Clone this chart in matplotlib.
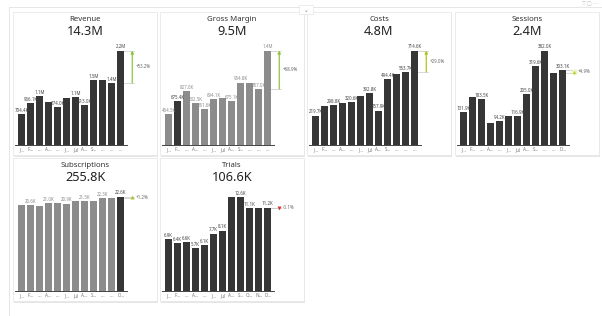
import matplotlib
matplotlib.use('Agg')
import matplotlib.pyplot as plt
from matplotlib.patches import Rectangle

plt.rcParams['font.family'] = ['Noto Sans', 'DejaVu Sans']

# ---------------- data ----------------
revenue_k = [704.4, 966.1, 1130, 990, 874.0, 1080, 1110, 913.0, 1500, 1520, 1440, 2200]
gross_margin_k = [464.5, 675.4, 827.0, 632.5, 551.6, 694.1, 715, 675.1, 954.8, 940, 857.0, 1448]
costs_k = [219.7, 290.0, 298.8, 316.0, 320.6, 366.0, 392.8, 257.9, 494.4, 533.0, 553.7, 714.6]
sessions_k = [131.9, 193.0, 183.5, 89.0, 94.2, 116.0, 116.9, 205.0, 319.6, 382.0, 289.0, 303.1]
subscriptions_k = [20.5, 20.6, 20.3, 21.0, 21.0, 20.9, 21.5, 21.5, 21.5, 22.3, 22.3, 22.6]
trials_k = [6.9, 6.4, 6.6, 5.7, 6.1, 7.7, 8.1, 12.7, 12.6, 11.1, 11.21, 11.2]

titles = ["Revenue", "Gross Margin", "Costs", "Sessions", "Subscriptions", "Trials"]
totals = ["14.3M", "9.5M", "4.8M", "2.4M", "255.8K", "106.6K"]
variances = ["+53.2%", "+68.9%", "+29.0%", "+4.9%", "+1.2%", "-0.1%"]

ticks_a = ["J…", "F…", "…", "A…", "…", "J…", "Jul", "A…", "S…", "…", "…", "…"]
ticks_b = ["J…", "F…", "…", "A…", "…", "J…", "Jul", "A…", "S…", "…", "…", "D…"]
ticks_c = ["J…", "F…", "…", "A…", "…", "J…", "Jul", "A…", "S…", "O…", "N…", "D…"]

labels_shown = [
    [0, 1, 2, 4, 6, 7, 8, 10, 11],
    [0, 1, 2, 3, 4, 5, 7, 8, 10, 11],
    [0, 2, 4, 6, 7, 8, 10, 11],
    [0, 2, 4, 6, 7, 8, 9, 11],
    [1, 3, 5, 7, 9, 11],
    [0, 1, 2, 3, 4, 5, 6, 8, 9, 11],
]

DARK = '#363636'
GRAY = '#8c8c8c'

panels = [
    dict(x0=13, y0=12, data=revenue_k, colors=[DARK] * 12, ticks=ticks_a, kind='arrow', vcol='#8cc63f'),
    dict(x0=160, y0=12, data=gross_margin_k, colors=[GRAY, DARK] + [GRAY] * 10, ticks=ticks_a, kind='arrow', vcol='#8cc63f'),
    dict(x0=307, y0=12, data=costs_k, colors=[DARK] * 12, ticks=ticks_a, kind='arrow', vcol='#a9c81e'),
    dict(x0=455, y0=12, data=sessions_k, colors=[DARK] * 12, ticks=ticks_b, kind='dot', vcol='#b6cc2c'),
    dict(x0=13, y0=158, data=subscriptions_k, colors=[GRAY] * 11 + [DARK], ticks=ticks_b, kind='up', vcol='#a8c42a'),
    dict(x0=160, y0=158, data=trials_k, colors=[DARK] * 12, ticks=ticks_c, kind='down', vcol='#e02b2b'),
]

W, H = 602, 316
PW, PH = 144, 143
PITCH = 9.0
C0 = 8.65


def fmt(v):
    if v >= 1000:
        return f"{v / 1000:.1f}M"
    return f"{v:.1f}K"


fig = plt.figure(figsize=(W / 100, H / 100), dpi=100)
fig.patch.set_facecolor('white')


def frect(x, y, w, h):
    return (x / W, 1 - (y + h) / H), w / W, h / H


# page decorations
fig.add_artist(plt.Line2D([9 / W, 1], [1 - 7 / H, 1 - 7 / H], transform=fig.transFigure, color='#e2e2e2', lw=0.6, zorder=-20))
fig.add_artist(plt.Line2D([9 / W, 9 / W], [0, 1 - 7 / H], transform=fig.transFigure, color='#e2e2e2', lw=0.6, zorder=-20))
xy, w, h = frect(299, 5, 14, 9)
fig.add_artist(Rectangle(xy, w, h, transform=fig.transFigure, facecolor='white', edgecolor='#e6e6e6', lw=0.5, zorder=-5))
fig.text(306 / W, 1 - 10 / H, "⌄", fontsize=4, color='#777', ha='center', va='center')
fig.text(590 / W, 1 - 4 / H, "▽ ▢ ⋯", fontsize=3.5, color='#b5b5b5', ha='center', va='center')

for i, p in enumerate(panels):
    x0, y0 = p['x0'], p['y0']
    vals = p['data']
    n = len(vals)
    # shadow + card
    xy, w, h = frect(x0 + 1, y0 + 1.5, PW, PH)
    fig.add_artist(Rectangle(xy, w, h, transform=fig.transFigure, facecolor='#e6e6e6', edgecolor='none', zorder=-12))
    xy, w, h = frect(x0, y0, PW, PH)
    fig.add_artist(Rectangle(xy, w, h, transform=fig.transFigure, facecolor='white', edgecolor='#e4e4e4', lw=0.5, zorder=-11))

    fig.text((x0 + PW / 2) / W, 1 - (y0 + 7.5) / H, titles[i], fontsize=5.6, color='#333',
             ha='center', va='center')
    fig.text((x0 + PW / 2) / W, 1 - (y0 + 19.5) / H, totals[i], fontsize=9.2, color='#222',
             ha='center', va='center')

    xy, w, h = frect(x0 + 2, y0 + 30, 142, 102.5)
    ax = fig.add_axes([xy[0], xy[1], w, h])
    ax.set_facecolor('none')
    for s in ax.spines.values():
        s.set_visible(False)
    vmax = max(vals)
    ax.set_xlim((2 - C0) / PITCH, (144 - C0) / PITCH)
    ax.set_ylim(0, vmax / 0.917)
    ax.bar(range(n), vals, width=0.74, color=p['colors'])
    ax.plot([(2 - C0) / PITCH, (114 - C0) / PITCH], [0, 0], color='#444', lw=0.7, clip_on=False)
    ax.set_yticks([])
    ax.set_xticks(range(n))
    ax.set_xticklabels(p['ticks'], fontsize=3.3, color='#777')
    ax.tick_params(axis='x', length=0, pad=1.8)

    for j in labels_shown[i]:
        c = '#8a8a8a' if p['colors'][j] == GRAY else '#444'
        ax.text(j, vals[j] + vmax * 0.012, fmt(vals[j]), ha='center', va='bottom', fontsize=3.2, color=c)

    v11, v12 = vals[-2], vals[-1]
    xa = 12.29
    ax.plot([n - 1 + 0.37, xa + 0.15], [v12, v12], color='#c8c8c8', lw=0.5)
    ax.plot([n - 1 + 0.37, xa + 0.15], [v11, v11], color='#c8c8c8', lw=0.5)
    mid = (v11 + v12) / 2
    if p['kind'] == 'arrow':
        ax.annotate('', xy=(xa, v12), xytext=(xa, v11),
                    arrowprops=dict(arrowstyle='-|>', color=p['vcol'], lw=0.9, mutation_scale=4,
                                    shrinkA=0, shrinkB=0))
    elif p['kind'] == 'dot':
        ax.plot([xa], [mid], marker='o', ms=4.2, color='#eef2b8', mec='none')
        ax.plot([xa], [mid], marker='^', ms=2.2, color=p['vcol'], mec='none')
    elif p['kind'] == 'up':
        ax.plot([xa], [mid], marker='^', ms=2.8, color=p['vcol'], mec='none')
    else:
        ax.plot([xa], [mid], marker='v', ms=2.8, color=p['vcol'], mec='none')
    ax.text(xa + 0.35, mid, variances[i], fontsize=3.2, color='#666', ha='left', va='center')

fig.savefig('out.png', dpi=100, facecolor='white')
